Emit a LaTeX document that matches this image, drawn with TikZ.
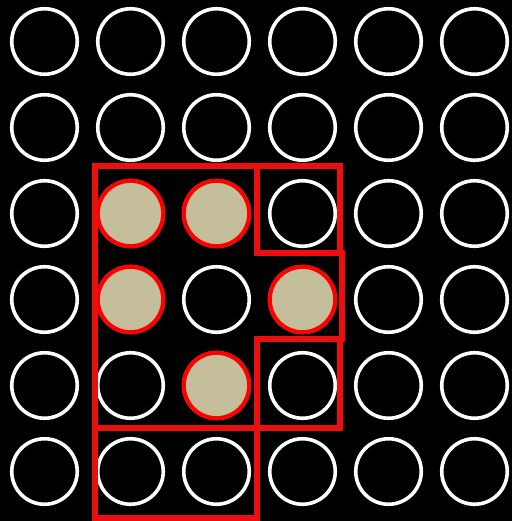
\documentclass[tikz,border=0pt]{standalone}
\definecolor{beige}{RGB}{196,190,154}
\definecolor{redline}{RGB}{235,16,16}
\tikzset{
  dot/.style={circle, draw=white, line width=3.6pt, minimum size=65.5pt, inner sep=0pt, fill=black},
  hot/.style={dot, draw=red, line width=4.2pt, fill=beige},
  wall/.style={draw=redline, line width=5.5pt, line cap=rect}
}
\begin{document}
\begin{tikzpicture}[x=1pt,y=-1pt]
\fill[black] (0,0) rectangle (512,521);
\useasboundingbox (0,0) rectangle (512,521);
\foreach \i in {0,...,5}{
  \foreach \j in {0,...,5}{
    \node[dot] (c\i\j) at (44.5+86*\i, 41.5+86*\j) {};
  }
}
\node[hot] (h12) at (130.5,213.5) {};
\node[hot] (h22) at (216.5,213.5) {};
\node[hot] (h13) at (130.5,299.5) {};
\node[hot] (h33) at (302.5,299.5) {};
\node[hot] (h24) at (216.5,385.5) {};
% red outlines
\draw[wall] (95,166) -- (340,166) -- (340,253);
\draw[wall] (95,166) -- (95,518) -- (257,518) -- (257,340);
\draw[wall] (257,166) -- (257,253) -- (342,253) -- (342,339) -- (257,339);
\draw[wall] (340,339) -- (340,428) -- (95,428);
\end{tikzpicture}
\end{document}
